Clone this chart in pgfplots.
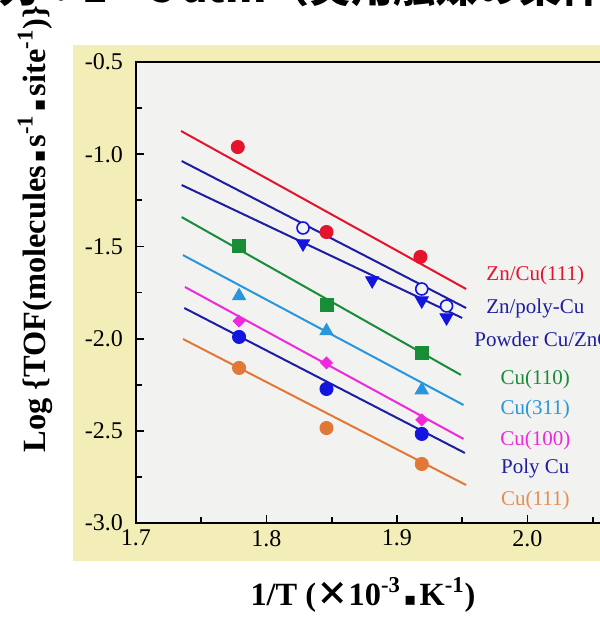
\documentclass[border=0pt]{standalone}
\usepackage{pgfplots}
\pgfplotsset{compat=1.18}
\usepackage{fontspec}
\setmainfont{Liberation Serif}
\newfontfamily\cjk{Noto Sans CJK JP}
\newfontfamily\dejavu{DejaVu Sans}
\newcommand{\sdot}{\hspace{0.1em}{\dejavu\fontsize{9}{9}\selectfont ▪}\hspace{0.1em}}
\definecolor{bgyellow}{RGB}{243,238,183}
\definecolor{plotbg}{RGB}{242,242,240}
\definecolor{cred}{RGB}{228,20,45}
\definecolor{cnavy}{RGB}{30,30,160}
\definecolor{cblue}{RGB}{20,20,225}
\definecolor{cgreen}{RGB}{25,140,55}
\definecolor{ccyan}{RGB}{40,150,220}
\definecolor{cmag}{RGB}{240,40,220}
\definecolor{corange}{RGB}{225,120,55}
\begin{document}
\begin{tikzpicture}
\useasboundingbox (0,0) rectangle (300pt,-311.5pt);
\clip (0,0) rectangle (300pt,-311.5pt);
\fill[white] (0,0) rectangle (300pt,-311.5pt);
\fill[bgyellow] (36.5pt,-22.5pt) rectangle (300pt,-280.5pt);
% cut-off title
\node[anchor=base east,font=\cjk\bfseries\fontsize{21}{23}\selectfont,inner sep=0pt] at (88pt,-1pt) {圧力：1～5};
\node[anchor=base west,font=\cjk\bfseries\fontsize{21}{23}\selectfont,inner sep=0pt] at (91pt,-1pt) {atm（実用触媒の条件）};
\begin{axis}[
  at={(68pt,-261.5pt)}, anchor=south west,
  scale only axis, width=241.4pt, height=230.5pt,
  xmin=1.7, xmax=2.07, ymin=-3.0, ymax=-0.5,
  axis background/.style={fill=plotbg},
  axis line style={line width=1pt},
  xtick={1.7,1.8,1.9,2.0}, xticklabels={1.7,1.8,1.9,2.0},
  minor xtick={1.75,1.85,1.95,2.05},
  ytick={-3.0,-2.5,-2.0,-1.5,-1.0,-0.5},
  yticklabels={-3.0,-2.5,-2.0,-1.5,-1.0,-0.5},
  minor ytick={-2.75,-2.25,-1.75,-1.25,-0.75},
  xtick pos=left, ytick pos=left,
  tick align=inside,
  major tick length=4pt, minor tick length=3pt,
  every tick/.style={black, line width=0.9pt},
  ticklabel style={font=\fontsize{12}{14}\selectfont},
  yticklabel style={xshift=-3pt},
  xticklabel style={yshift=0pt},
  clip=false,
]
% fitted lines
\addplot[cred, line width=1pt] coordinates {(1.7345,-0.874) (1.953,-1.731)};
\addplot[cnavy, line width=1pt] coordinates {(1.735,-1.037) (1.953,-1.834)};
\addplot[cnavy, line width=1pt] coordinates {(1.735,-1.167) (1.950,-1.888)};
\addplot[cgreen, line width=1pt] coordinates {(1.735,-1.341) (1.949,-2.197)};
\addplot[ccyan, line width=1pt] coordinates {(1.736,-1.547) (1.951,-2.360)};
\addplot[cmag, line width=1pt] coordinates {(1.7375,-1.720) (1.951,-2.544)};
\addplot[cnavy, line width=1pt] coordinates {(1.737,-1.834) (1.952,-2.620)};
\addplot[corange, line width=1pt] coordinates {(1.736,-2.002) (1.953,-2.794)};
% data points
\addplot[only marks, mark=*, mark size=3.3pt, mark options={cred, fill=cred}] coordinates {(1.778,-0.961) (1.846,-1.422) (1.918,-1.557)};
\addplot[only marks, mark=*, mark size=3pt, mark options={draw=cblue, fill=plotbg, line width=0.8pt}] coordinates {(1.828,-1.400) (1.919,-1.731) (1.938,-1.823)};
\addplot[only marks, mark=triangle*, mark size=3.8pt, mark options={cblue, fill=cblue, rotate=180}] coordinates {(1.828,-1.485) (1.881,-1.685) (1.919,-1.794) (1.938,-1.886)};
\addplot[only marks, mark=square*, mark size=3.3pt, mark options={cgreen, fill=cgreen}] coordinates {(1.779,-1.498) (1.846,-1.818) (1.919,-2.078)};
\addplot[only marks, mark=triangle*, mark size=3.8pt, mark options={ccyan, fill=ccyan}] coordinates {(1.779,-1.769) (1.846,-1.959) (1.919,-2.279)};
\addplot[only marks, mark=square*, mark size=2.1pt, mark options={cmag, fill=cmag, rotate=45}] coordinates {(1.779,-1.905) (1.846,-2.132) (1.919,-2.441)};
\addplot[only marks, mark=*, mark size=3.3pt, mark options={cblue, fill=cblue}] coordinates {(1.779,-1.991) (1.846,-2.273) (1.919,-2.517)};
\addplot[only marks, mark=*, mark size=3.3pt, mark options={corange, fill=corange}] coordinates {(1.779,-2.159) (1.846,-2.485) (1.919,-2.680)};
% series labels
\node[text=cred, font=\fontsize{10.5}{12}\selectfont] at (axis cs:2.006,-1.655) {Zn/Cu(111)};
\node[text=cnavy, font=\fontsize{10.5}{12}\selectfont] at (axis cs:2.006,-1.839) {Zn/poly-Cu};
\node[text=cnavy, font=\fontsize{10.5}{12}\selectfont, anchor=west, inner sep=0pt] at (axis cs:1.959,-2.002) {Powder Cu/ZnO};
\node[text=cgreen, font=\fontsize{10.5}{12}\selectfont] at (axis cs:2.006,-2.224) {Cu(110)};
\node[text=ccyan, font=\fontsize{10.5}{12}\selectfont] at (axis cs:2.006,-2.382) {Cu(311)};
\node[text=cmag, font=\fontsize{10.5}{12}\selectfont] at (axis cs:2.006,-2.550) {Cu(100)};
\node[text=cnavy, font=\fontsize{10.5}{12}\selectfont] at (axis cs:2.006,-2.702) {Poly Cu};
\node[text=corange!85!white, font=\fontsize{10.5}{12}\selectfont] at (axis cs:2.006,-2.875) {Cu(111)};
\end{axis}
% axis labels
\node[rotate=90, anchor=west, inner sep=0pt, font=\bfseries\fontsize{16.2}{18}\selectfont] at (17.5pt,-226.5pt) {Log \{TOF(molecules\sdot s\textsuperscript{-1}\sdot site\textsuperscript{-1})\}};
\node[font=\bfseries\fontsize{16.2}{18}\selectfont] at (181.5pt,-297.5pt) {1/T ({\cjk ×}10\textsuperscript{-3}\sdot K\textsuperscript{-1})};
\end{tikzpicture}
\end{document}
